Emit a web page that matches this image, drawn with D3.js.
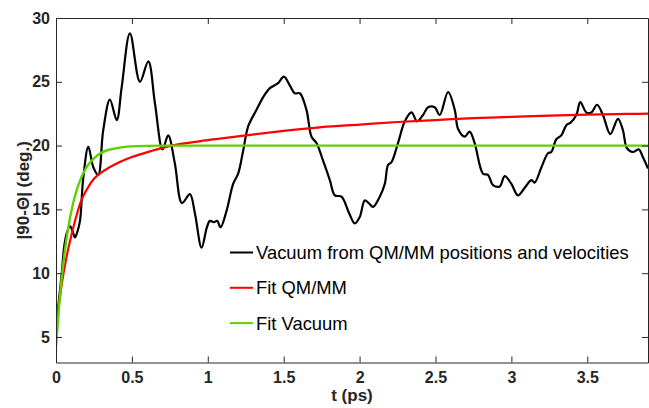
<!DOCTYPE html>
<html>
<head>
<meta charset="utf-8">
<script src="https://cdn.jsdelivr.net/npm/d3@7"></script>
<style>
  body { margin: 0; background: #fff; }
  svg { display: block; }
  .tick-label { font-family: "Liberation Sans", Arial, sans-serif; font-weight: bold; font-size: 16px; fill: #262626; }
  .axis-title { font-family: "Liberation Sans", Arial, sans-serif; font-weight: bold; font-size: 17px; fill: #262626; }
  .legend-text { font-family: "Liberation Sans", Arial, sans-serif; font-size: 18.4px; fill: #000; }
</style>
</head>
<body>
<div id="chart"></div>
<script>
// black trace: time (ps) and |90-Theta| (deg.)
const vacT = [0.000, 0.016, 0.038, 0.053, 0.070, 0.092, 0.109, 0.125, 0.142, 0.158, 0.180, 0.213, 0.246, 0.278,
  0.311, 0.355, 0.400, 0.433, 0.487, 0.553, 0.608, 0.652, 0.702, 0.739, 0.783, 0.830, 0.882, 0.915, 0.959,
  0.994, 1.014, 1.040, 1.062, 1.084, 1.124, 1.167, 1.200, 1.233, 1.266, 1.321, 1.365, 1.409, 1.463, 1.501,
  1.541, 1.573, 1.606, 1.650, 1.683, 1.716, 1.760, 1.804, 1.837, 1.881, 1.931, 1.968, 2.001, 2.034, 2.060,
  2.089, 2.133, 2.166, 2.188, 2.210, 2.253, 2.298, 2.342, 2.379, 2.418, 2.451, 2.495, 2.528, 2.583, 2.627,
  2.649, 2.693, 2.725, 2.758, 2.813, 2.846, 2.879, 2.923, 2.956, 3.000, 3.043, 3.088, 3.132, 3.153, 3.198,
  3.241, 3.263, 3.296, 3.329, 3.362, 3.390, 3.428, 3.454, 3.494, 3.527, 3.564, 3.603, 3.652, 3.702, 3.735,
  3.761, 3.800, 3.840, 3.866, 3.900];
const vacV = [5.6, 7.5, 10.0, 12.0, 13.1, 13.7, 13.3, 12.8, 13.3, 14.1, 17.5, 19.9, 18.3, 17.7,
  21.2, 23.6, 22.0, 24.6, 28.8, 25.0, 26.6, 23.3, 19.7, 20.8, 18.6, 15.5, 16.2, 14.7, 12.0,
  13.6, 14.1, 14.0, 14.1, 13.6, 14.9, 17.0, 17.8, 19.6, 21.5, 22.8, 23.8, 24.5, 24.9, 25.4,
  24.7, 24.1, 24.1, 22.8, 20.7, 20.2, 18.8, 17.3, 16.1, 16.0, 14.7, 13.9, 14.4, 15.7, 15.5,
  15.2, 16.0, 17.0, 18.5, 18.7, 20.2, 21.9, 22.6, 21.9, 22.4, 23.0, 23.0, 22.4, 24.2, 22.8,
  21.3, 20.7, 21.1, 20.2, 17.8, 17.7, 16.9, 16.8, 17.6, 17.0, 16.1, 16.7, 17.3, 17.1, 18.3,
  19.4, 19.5, 20.5, 20.8, 21.6, 21.8, 22.4, 23.4, 22.6, 22.6, 23.2, 22.4, 20.9, 22.1, 21.2,
  19.8, 19.5, 19.7, 19.1, 18.2];

// red fit (QM/MM)
const fitQmT = [0, 0.02, 0.04, 0.07, 0.1, 0.13, 0.16, 0.2, 0.25, 0.3, 0.4, 0.5, 0.62, 0.76, 0.95, 1.08,
  1.25, 1.5, 1.75, 2.0, 2.25, 2.5, 2.75, 3.0, 3.25, 3.5, 3.75, 3.9];
const fitQmV = [6.0, 7.6, 9.3, 11.3, 12.9, 14.3, 15.5, 16.5, 17.4, 17.9, 18.6, 19.1, 19.55, 20.0, 20.35, 20.55,
  20.8, 21.15, 21.45, 21.65, 21.85, 22.0, 22.15, 22.25, 22.35, 22.43, 22.48, 22.5];

// green fit (vacuum)
const fitVacT = [0, 0.02, 0.04, 0.06, 0.08, 0.1, 0.125, 0.15, 0.2, 0.25, 0.3, 0.4, 0.5, 0.6, 0.8, 1.0, 3.9];
const fitVacV = [4.2, 7.35, 9.9, 11.9, 13.5, 14.8, 16.05, 17.0, 18.3, 19.0, 19.45, 19.8, 19.94, 19.98, 20.0, 20.0, 20.0];

const xTicks = [0, 0.5, 1, 1.5, 2, 2.5, 3, 3.5];
const yTicks = [5, 10, 15, 20, 25, 30];
const legendLabels = ['Vacuum from QM/MM positions and velocities', 'Fit QM/MM', 'Fit Vacuum'];
const colors = ['#000000', '#ff0000', '#5fd000'];

const W = 649, H = 408;
const margin = { left: 56, top: 18, right: 1, bottom: 45.5 };
const iw = W - margin.left - margin.right;
const ih = H - margin.top - margin.bottom;
const axisColor = '#262626';

const svg = d3.select('#chart').append('svg')
  .attr('width', W)
  .attr('height', H);

const x = d3.scaleLinear().domain([0, 3.9]).range([margin.left, margin.left + iw]);
const y = d3.scaleLinear().domain([3, 30]).range([margin.top + ih, margin.top]);

const zip = (ts, vs) => ts.map((t, i) => ({ t, v: vs[i] }));

// clip the plot area
svg.append('clipPath').attr('id', 'clip')
  .append('rect')
  .attr('x', margin.left).attr('y', margin.top)
  .attr('width', iw).attr('height', ih);

const plot = svg.append('g').attr('clip-path', 'url(#clip)');

const smooth = d3.line().x(d => x(d.t)).y(d => y(d.v)).curve(d3.curveCatmullRom.alpha(0.5));
const mono = d3.line().x(d => x(d.t)).y(d => y(d.v)).curve(d3.curveMonotoneX);

plot.append('path')
  .datum(zip(vacT, vacV))
  .attr('d', smooth)
  .attr('fill', 'none')
  .attr('stroke', colors[0])
  .attr('stroke-width', 2.2)
  .attr('stroke-linejoin', 'round');

plot.append('path')
  .datum(zip(fitQmT, fitQmV))
  .attr('d', mono)
  .attr('fill', 'none')
  .attr('stroke', colors[1])
  .attr('stroke-width', 2.2);

plot.append('path')
  .datum(zip(fitVacT, fitVacV))
  .attr('d', mono)
  .attr('fill', 'none')
  .attr('stroke', colors[2])
  .attr('stroke-width', 2.4);

// axes box with inward ticks on all sides
const tl = 6;
const bottomAxis = d3.axisBottom(x).tickValues(xTicks).tickSizeInner(-tl).tickSizeOuter(0).tickFormat(d3.format('~g'));
const topAxis = d3.axisTop(x).tickValues(xTicks).tickSizeInner(-tl).tickSizeOuter(0).tickFormat('');
const leftAxis = d3.axisLeft(y).tickValues(yTicks).tickSizeInner(-tl).tickSizeOuter(0);
const rightAxis = d3.axisRight(y).tickValues(yTicks).tickSizeInner(-tl).tickSizeOuter(0).tickFormat('');

function styleAxis(g) {
  g.select('.domain').attr('stroke', axisColor).attr('stroke-width', 1);
  g.selectAll('.tick line').attr('stroke', axisColor).attr('stroke-width', 1);
  g.selectAll('.tick text').attr('class', 'tick-label').attr('fill', null);
}

svg.append('g').attr('transform', `translate(0,${margin.top + ih})`).call(bottomAxis).call(styleAxis)
  .selectAll('.tick text').attr('dy', null).attr('y', 20);
svg.append('g').attr('transform', `translate(0,${margin.top})`).call(topAxis).call(styleAxis);
svg.append('g').attr('transform', `translate(${margin.left},0)`).call(leftAxis).call(styleAxis)
  .selectAll('.tick text').attr('x', -6);
svg.append('g').attr('transform', `translate(${margin.left + iw},0)`).call(rightAxis).call(styleAxis);

// axis titles
svg.append('text')
  .attr('class', 'axis-title')
  .attr('x', margin.left + iw / 2)
  .attr('y', 401)
  .attr('text-anchor', 'middle')
  .text('t (ps)');

svg.append('text')
  .attr('class', 'axis-title')
  .attr('transform', `translate(29,${margin.top + ih / 2}) rotate(-90)`)
  .attr('text-anchor', 'middle')
  .text('|90-Θ| (deg.)');

// legend
const legend = svg.append('g').attr('transform', 'translate(230,252.5)');
legendLabels.forEach((label, i) => {
  const row = legend.append('g').attr('transform', `translate(0,${i * 35.3})`);
  row.append('line')
    .attr('x1', 0).attr('x2', 23)
    .attr('y1', 0).attr('y2', 0)
    .attr('stroke', colors[i])
    .attr('stroke-width', 2);
  row.append('text')
    .attr('class', 'legend-text')
    .attr('x', 26)
    .attr('y', 6.5)
    .text(label);
});
</script>
</body>
</html>
